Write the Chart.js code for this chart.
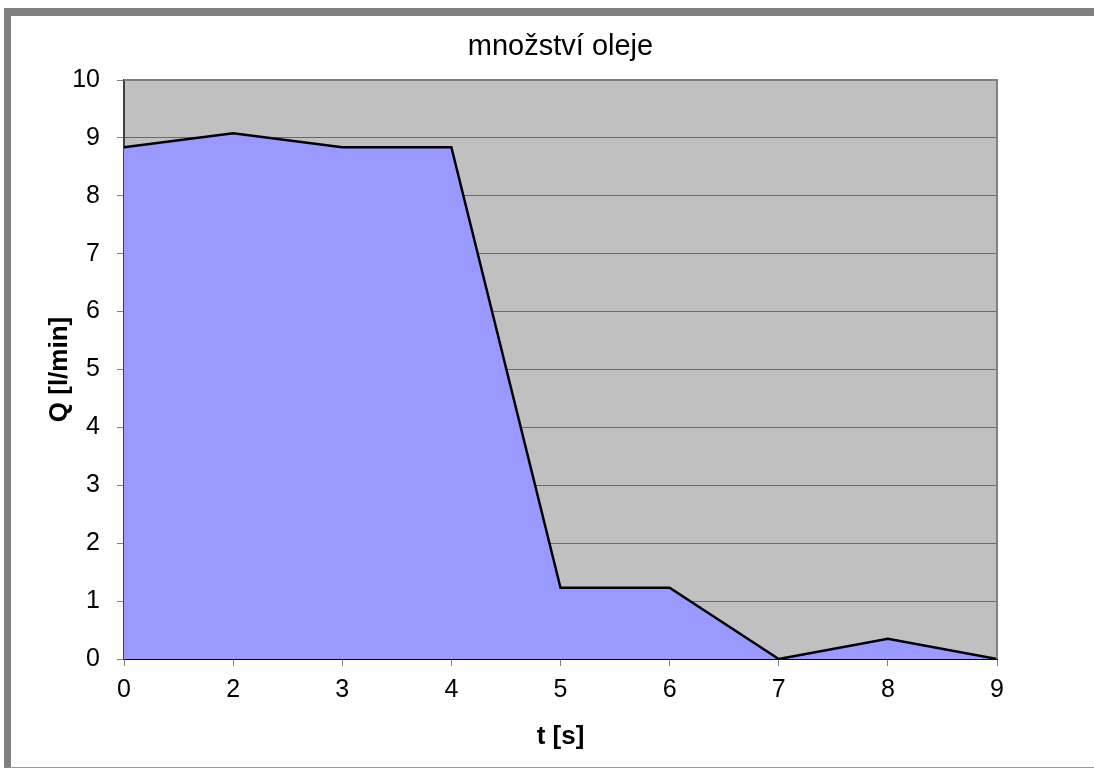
<!DOCTYPE html>
<html>
<head>
<meta charset="utf-8">
<script src="https://cdn.jsdelivr.net/npm/chart.js@4/dist/chart.umd.min.js"></script>
<style>
  body { margin: 0; background: #fff; overflow: hidden; }
  #wrap { position: relative; width: 1094px; height: 769px; }
  #frame {
    position: absolute; left: 4px; top: 8px; width: 1100px; height: 751px;
    border-top: 8px solid #808080; border-left: 7px solid #808080;
    border-bottom: 1px solid #999; pointer-events: none;
  }
  canvas { position: absolute; left: 0; top: 0; }
</style>
</head>
<body>
<div id="wrap">
  <canvas id="chart" width="1094" height="769"></canvas>
  <div id="frame"></div>
</div>
<script>
var chartTitle = 'množství oleje'
var times = ['0', '2', '3', '4', '5', '6', '7', '8', '9'] // t [s], category axis
var flow = [8.84, 9.08, 8.84, 8.84, 1.23, 1.23, 0, 0.35, 0] // Q [l/min]
var yTicks = [0, 1, 2, 3, 4, 5, 6, 7, 8, 9, 10]

// grey plot background, top/right frame and the title over the plot
var plotDecor = {
    id: 'plotDecor',
    beforeDraw(chart) {
        var a = chart.chartArea, ctx = chart.ctx
        ctx.save()
        ctx.fillStyle = '#C0C0C0'
        ctx.fillRect(a.left, a.top, a.right - a.left, a.bottom - a.top)
        ctx.restore()
    },
    afterDraw(chart) {
        var a = chart.chartArea, ctx = chart.ctx
        ctx.save()
        ctx.strokeStyle = '#808080'
        ctx.lineWidth = 2
        ctx.beginPath()
        ctx.moveTo(a.left, a.top)
        ctx.lineTo(a.right, a.top)
        ctx.lineTo(a.right, a.bottom)
        ctx.stroke()
        ctx.fillStyle = '#000'
        ctx.font = '29px "Liberation Sans", Arial, sans-serif'
        ctx.textAlign = 'center'
        ctx.textBaseline = 'middle'
        ctx.fillText(chartTitle, (a.left + a.right) / 2, 47)
        ctx.restore()
    }
}

new Chart(document.getElementById('chart'), {
    type: 'line',
    data: {
        labels: times,
        datasets: [{
            data: flow,
            fill: 'origin',
            backgroundColor: '#9999FF',
            borderColor: '#000',
            borderWidth: 2.5,
            pointRadius: 0,
            tension: 0
        }]
    },
    options: {
        responsive: false,
        animation: false,
        events: [],
        layout: { padding: { left: 20, top: 80, right: 97, bottom: 0 } },
        plugins: { legend: { display: false }, tooltip: { enabled: false } },
        scales: {
            x: {
                offset: false,
                afterFit(scale) { scale.height = 110 },
                grid: { display: true, drawOnChartArea: false, drawTicks: true, tickLength: 7, tickColor: '#808080' },
                border: { color: '#000', width: 2 },
                ticks: { color: '#000', padding: 9, maxRotation: 0, font: { family: '"Liberation Sans", Arial', size: 25 } },
                title: { display: true, text: 't [s]', color: '#000', padding: { top: 0, bottom: 17 }, font: { family: '"Liberation Sans", Arial', size: 26, weight: 'bold' } }
            },
            y: {
                min: 0,
                max: 10,
                afterFit(scale) { scale.width = 104 },
                afterBuildTicks(scale) { scale.ticks = yTicks.map(v => ({ value: v })) },
                grid: { color: '#6a6a6a', lineWidth: 1, tickLength: 7, tickColor: '#808080' },
                border: { color: '#404040', width: 2 },
                ticks: { color: '#000', padding: 17, font: { family: '"Liberation Sans", Arial', size: 25 } },
                title: { display: true, text: 'Q [l/min]', color: '#000', padding: { top: 24, bottom: 0 }, font: { family: '"Liberation Sans", Arial', size: 26, weight: 'bold' } }
            }
        }
    },
    plugins: [plotDecor]
})
</script>
</body>
</html>
